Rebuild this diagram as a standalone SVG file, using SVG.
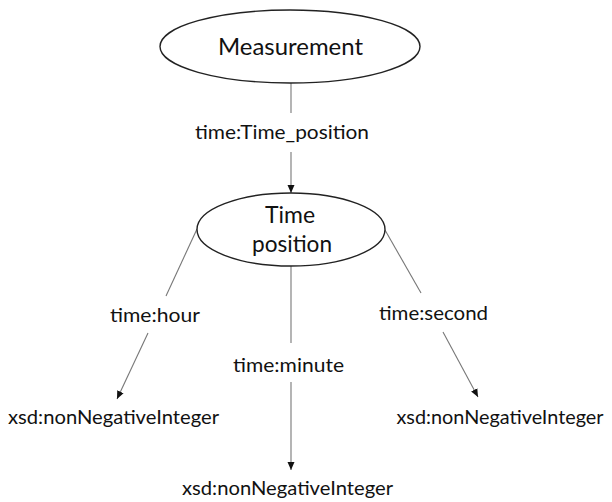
<svg xmlns="http://www.w3.org/2000/svg" width="612" height="502" viewBox="0 0 612 502">
<defs>
<style>
.node ellipse{fill:#fff;stroke:#222;stroke-width:1.4}
text{font-family:Lato,"Open Sans","Liberation Sans",sans-serif;fill:#111;text-anchor:middle}
.big{font-size:23px}
.lbl{font-size:20px}
.edge line{stroke:#777;stroke-width:1.1;fill:none}
</style>
<marker id="arr" markerWidth="8" markerHeight="8" refX="8" refY="4" orient="auto" markerUnits="userSpaceOnUse">
<path d="M0,0.5 L8,4 L0,7.5 Z" fill="#111"/>
</marker>
</defs>
<rect width="612" height="502" fill="#fff"/>
<g id="connectors" class="edge">
<line x1="291" y1="83" x2="291" y2="113"/>
<line x1="291" y1="152" x2="291" y2="193" marker-end="url(#arr)"/>
<line x1="197" y1="229" x2="166" y2="296"/>
<line x1="148" y1="333" x2="117" y2="399" marker-end="url(#arr)"/>
<line x1="291" y1="266" x2="291" y2="343"/>
<line x1="291" y1="382" x2="291" y2="470" marker-end="url(#arr)"/>
<line x1="385" y1="230" x2="421" y2="293"/>
<line x1="443" y1="332" x2="478" y2="397" marker-end="url(#arr)"/>
</g>
<g id="measurement" class="node">
<ellipse cx="290" cy="46.5" rx="130" ry="36.5"/>
<text class="big" x="290.5" y="55" textLength="145" lengthAdjust="spacingAndGlyphs">Measurement</text>
</g>
<g id="time-position" class="node">
<ellipse cx="291" cy="229.5" rx="94" ry="36.5"/>
<text class="big" x="290" y="223" textLength="50" lengthAdjust="spacingAndGlyphs">Time</text>
<text class="big" x="292" y="252" textLength="80" lengthAdjust="spacingAndGlyphs">position</text>
</g>
<g id="label-time-position">
<text class="lbl" x="282" y="139" textLength="174" lengthAdjust="spacingAndGlyphs">time:Time_position</text>
</g>
<g id="label-hour">
<text class="lbl" x="155" y="322" textLength="90" lengthAdjust="spacingAndGlyphs">time:hour</text>
</g>
<g id="label-minute">
<text class="lbl" x="288.5" y="372" textLength="111" lengthAdjust="spacingAndGlyphs">time:minute</text>
</g>
<g id="label-second">
<text class="lbl" x="433.5" y="320" textLength="109" lengthAdjust="spacingAndGlyphs">time:second</text>
</g>
<g id="xsd-hour">
<text class="lbl" x="113.5" y="424" textLength="211" lengthAdjust="spacingAndGlyphs">xsd:nonNegativeInteger</text>
</g>
<g id="xsd-minute">
<text class="lbl" x="287.5" y="495" textLength="211" lengthAdjust="spacingAndGlyphs">xsd:nonNegativeInteger</text>
</g>
<g id="xsd-second">
<text class="lbl" x="500" y="424" textLength="207" lengthAdjust="spacingAndGlyphs">xsd:nonNegativeInteger</text>
</g>
</svg>
